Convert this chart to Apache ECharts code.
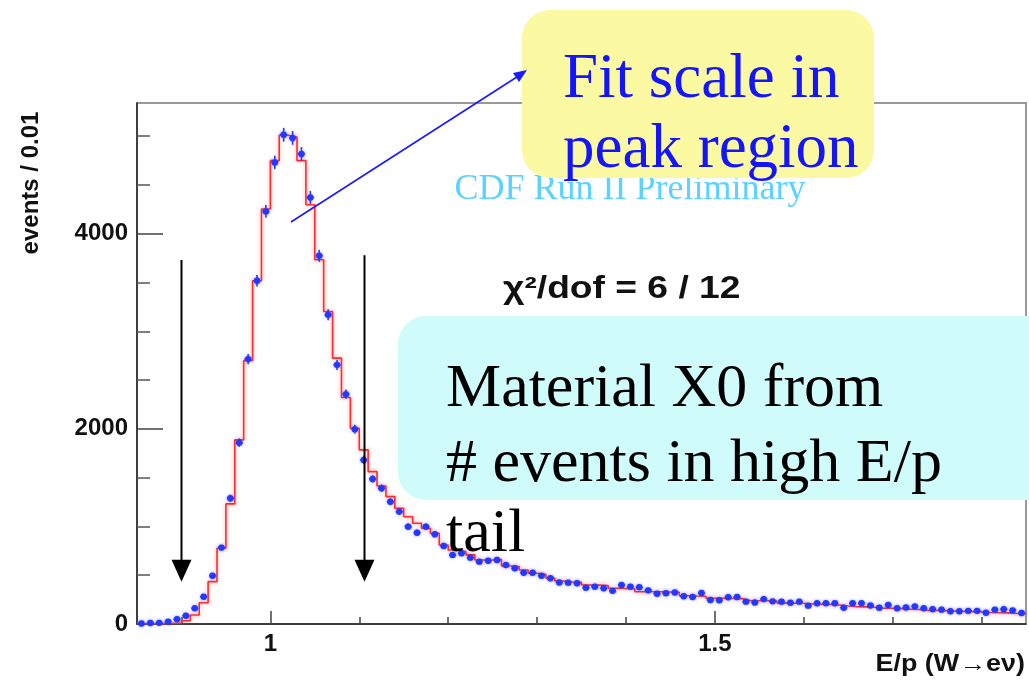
<!DOCTYPE html>
<html><head><meta charset="utf-8">
<script src="https://cdn.jsdelivr.net/npm/echarts@6/dist/echarts.min.js"></script>
<style>html,body{margin:0;padding:0;background:#fff}#c{width:1029px;height:681px}</style>
</head><body><div id="c"></div>
<script>
// Histogram binning (E/p, bins of 0.01)
const binStart = 0.85;
const binWidth = 0.01;

// Data points (blue), one per bin
const dataCounts = [
  5, 10, 12, 24, 48, 85, 161, 280, 495, 783,
  1289, 1859, 2715, 3518, 4229, 4731, 5015, 4982, 4818, 4372,
  3774, 3169, 2656, 2356, 1997, 1682, 1487, 1392, 1254, 1152,
  998, 936, 998, 920, 800, 708, 725, 680, 639, 649,
  656, 605, 571, 526, 526, 495, 469, 426, 424, 417,
  372, 383, 366, 340, 400, 383, 376, 345, 310, 315,
  323, 284, 277, 318, 246, 243, 274, 277, 229, 220,
  255, 232, 229, 218, 229, 188, 212, 212, 212, 167,
  212, 212, 190, 167, 195, 161, 169, 181, 161, 152,
  147, 130, 131, 135, 135, 116, 147, 151, 140, 112
];

// Simulation / fit histogram (red), one per bin
const fitCounts = [
  2, 3, 4, 6, 10, 34, 92, 218, 434, 776,
  1231, 1887, 2700, 3518, 4253, 4749, 5010, 4990, 4749, 4297,
  3733, 3203, 2725, 2321, 2007, 1785, 1562, 1415, 1306, 1187,
  1100, 1033, 982, 930, 810, 759, 742, 708, 656, 656,
  660, 595, 590, 554, 520, 510, 469, 440, 430, 428,
  400, 398, 395, 366, 364, 362, 331, 331, 330, 328,
  326, 290, 287, 285, 264, 264, 262, 260, 240, 239,
  238, 236, 214, 212, 212, 205, 203, 200, 195, 185,
  178, 176, 172, 162, 161, 158, 152, 148, 140, 138,
  136, 133, 128, 127, 124, 118, 116, 114, 108, 103
];

const xMajorTicks = [1, 1.5];
const xMinorTicks = [0.9, 1.1, 1.2, 1.3, 1.4, 1.6, 1.7, 1.8];
const yMajorTicks = [0, 2000, 4000];
const yMinorTicks = [500, 1000, 1500, 2500, 3000, 3500, 4500, 5000];
const xMin = 0.85, xMax = 1.85, yMax = 5340;

// Cut arrows (E/p positions) and their extent (events)
const cutPositions = [0.90, 1.105];
const cutTops = [3730, 3780];
const cutTip = 434;

const pointData = dataCounts.map((v, i) => [+(binStart + binWidth * (i + 0.5)).toFixed(3), v]);
const histData = fitCounts.map((v, i) => [+(binStart + binWidth * i).toFixed(2), v]);
histData.push([+(binStart + binWidth * fitCounts.length).toFixed(2), fitCounts[fitCounts.length - 1]]);

const chart = echarts.init(document.getElementById('c'), null, {renderer: 'canvas'});
const labelFont = {fontFamily: 'Liberation Sans, Arial, sans-serif', fontWeight: 'bold', color: '#111'};

const option = {
  animation: false,
  backgroundColor: '#fff',
  grid: {left: 137, top: 103, right: 3, bottom: 57, show: true, borderColor: '#999', borderWidth: 2, backgroundColor: 'transparent'},
  xAxis: [
    {type: 'value', min: xMin, max: xMax, position: 'bottom',
     axisLine: {show: true, lineStyle: {color: '#222', width: 1.5}},
     axisTick: {show: true, inside: true, length: 13, customValues: xMajorTicks, lineStyle: {color: '#444', width: 1.5}},
     axisLabel: Object.assign({customValues: xMajorTicks, fontSize: 24, margin: 8, formatter: v => String(v)}, labelFont),
     splitLine: {show: false}},
    {type: 'value', min: xMin, max: xMax, position: 'bottom',
     axisLine: {show: false},
     axisTick: {show: true, inside: true, length: 7, customValues: xMinorTicks, lineStyle: {color: '#444', width: 1.5}},
     axisLabel: {show: false}, splitLine: {show: false}}
  ],
  yAxis: [
    {type: 'value', min: 0, max: yMax, position: 'left',
     axisLine: {show: true, lineStyle: {color: '#222', width: 1.5}},
     axisTick: {show: true, inside: true, length: 26, customValues: yMajorTicks, lineStyle: {color: '#444', width: 1.5}},
     axisLabel: Object.assign({customValues: yMajorTicks, fontSize: 24, margin: 9, formatter: v => String(v)}, labelFont),
     splitLine: {show: false}},
    {type: 'value', min: 0, max: yMax, position: 'left',
     axisLine: {show: false},
     axisTick: {show: true, inside: true, length: 13, customValues: yMinorTicks, lineStyle: {color: '#555', width: 1.5}},
     axisLabel: {show: false}, splitLine: {show: false}}
  ],
  series: [
    {type: 'line', name: 'fit', xAxisIndex: 0, yAxisIndex: 0, step: 'end', data: histData, symbol: 'none',
     lineStyle: {color: '#ff2a2a', width: 1.6, shadowColor: 'rgba(255,90,90,0.6)', shadowBlur: 4}, z: 2},
    {type: 'custom', name: 'data', xAxisIndex: 0, yAxisIndex: 0, data: pointData, z: 3,
     encode: {x: 0, y: 1},
     renderItem: function (params, api) {
       const x = api.value(0), y = api.value(1);
       const e = Math.sqrt(y);
       const c = api.coord([x, y]);
       const l = api.coord([x - binWidth * 0.4, y]);
       const r = api.coord([x + binWidth * 0.4, y]);
       const t = api.coord([x, y + e]);
       const b = api.coord([x, Math.max(0, y - e)]);
       const st = {stroke: '#2438ff', lineWidth: 1.6};
       return {type: 'group', children: [
         {type: 'line', shape: {x1: l[0], y1: c[1], x2: r[0], y2: c[1]}, style: st},
         {type: 'line', shape: {x1: c[0], y1: t[1], x2: c[0], y2: b[1]}, style: st},
         {type: 'circle', shape: {cx: c[0], cy: c[1], r: 3.2}, style: {fill: '#2438ff', shadowColor: 'rgba(60,80,255,0.6)', shadowBlur: 3}}
       ]};
     }}
  ]
};
chart.setOption(option);

const px = (x, y) => chart.convertToPixel({xAxisIndex: 0, yAxisIndex: 0}, [x, y]);
const g = [];
// cut arrows
cutPositions.forEach((cx, i) => {
  const top = px(cx, cutTops[i]);
  const tip = px(cx, cutTip);
  const hx = Math.round(top[0]) + 0.5;
  g.push({type: 'line', z: 50, shape: {x1: hx, y1: top[1], x2: hx, y2: tip[1] - 18}, style: {stroke: '#000', lineWidth: 2}});
  g.push({type: 'polygon', z: 50, shape: {points: [[hx - 10, tip[1] - 22], [hx + 10, tip[1] - 22], [hx, tip[1]]]}, style: {fill: '#000'}});
});
// texts inside plot
g.push({type: 'text', z: 40, x: 630, y: 190, style: {text: 'CDF Run II Preliminary', font: '36px "Liberation Serif", serif', fill: '#5bd2ff', align: 'center', verticalAlign: 'middle'}});
g.push({type: 'text', z: 40, x: 503, y: 289, scaleX: 1.2, style: {text: 'χ²/dof = 6 / 12', font: 'bold 31px "Liberation Sans", Arial, sans-serif', fill: '#111', align: 'left', verticalAlign: 'middle'}});
// axis titles
g.push({type: 'text', z: 40, x: 1025, y: 665, scaleX: 1.17, style: {text: 'E/p (W→eν)', font: 'bold 23px "Liberation Sans", Arial, sans-serif', fill: '#111', align: 'right', verticalAlign: 'middle'}});
g.push({type: 'text', z: 40, x: 31, y: 183, rotation: Math.PI / 2, style: {text: 'events / 0.01', font: 'bold 24px "Liberation Sans", Arial, sans-serif', fill: '#111', align: 'center', verticalAlign: 'middle'}});
// yellow callout
g.push({type: 'rect', z: 60, shape: {x: 522, y: 10, width: 352, height: 168, r: 28}, style: {fill: '#fbf9a2'}});
g.push({type: 'text', z: 61, x: 563, y: 80, style: {text: 'Fit scale in', font: '63px "Liberation Serif", serif', fill: '#1414ff', align: 'left', verticalAlign: 'middle'}});
g.push({type: 'text', z: 61, x: 563, y: 150, style: {text: 'peak region', font: '63px "Liberation Serif", serif', fill: '#1414ff', align: 'left', verticalAlign: 'middle'}});
// blue pointer line
g.push({type: 'line', z: 62, shape: {x1: 291, y1: 222, x2: 520, y2: 75}, style: {stroke: '#1a1aff', lineWidth: 1.6}});
g.push({type: 'polygon', z: 62, shape: {points: [[527, 70], [513, 73], [519, 82]]}, style: {fill: '#1a1aff'}});
// cyan callout
g.push({type: 'rect', z: 60, shape: {x: 398, y: 316, width: 660, height: 184, r: 28}, style: {fill: '#d0fbfb'}});
g.push({type: 'text', z: 61, x: 446, y: 390, style: {text: 'Material X0 from', font: '62px "Liberation Serif", serif', fill: '#000', align: 'left', verticalAlign: 'middle'}});
g.push({type: 'text', z: 61, x: 446, y: 465, style: {text: '# events in high E/p', font: '62px "Liberation Serif", serif', fill: '#000', align: 'left', verticalAlign: 'middle'}});
g.push({type: 'text', z: 61, x: 446, y: 535, style: {text: 'tail', font: '62px "Liberation Serif", serif', fill: '#000', align: 'left', verticalAlign: 'middle'}});
chart.setOption({graphic: g});
</script></body></html>
